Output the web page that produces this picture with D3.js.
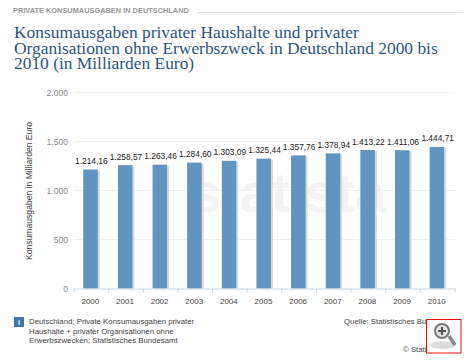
<!DOCTYPE html>
<html>
<head>
<meta charset="utf-8">
<script src="https://cdn.jsdelivr.net/npm/d3@7"></script>
<style>
  html, body { margin: 0; padding: 0; background: #fff; }
  svg { display: block; }
</style>
</head>
<body>
<div id="chart"></div>
<script>
const years = ['2000', '2001', '2002', '2003', '2004', '2005', '2006', '2007', '2008', '2009', '2010'];
const values = [1214.16, 1258.57, 1263.46, 1284.60, 1303.09, 1325.44, 1357.76, 1378.94, 1413.22, 1411.06, 1444.71];
const valueLabels = ['1.214,16', '1.258,57', '1.263,46', '1.284,60', '1.303,09', '1.325,44', '1.357,76', '1.378,94', '1.413,22', '1.411,06', '1.444,71'];
const yTicks = [0, 500, 1000, 1500, 2000];
const yTickLabels = ['0', '500', '1.000', '1.500', '2.000'];
const titleLines = ['Konsumausgaben privater Haushalte und privater', 'Organisationen ohne Erwerbszweck in Deutschland 2000 bis', '2010 (in Milliarden Euro)'];
const noteLines = ['Deutschland; Private Konsumausgaben privater', 'Haushalte + privater Organisationen ohne', 'Erwerbszwecken; Statistisches Bundesamt'];

const sans = 'Arial, "Liberation Sans", sans-serif';
const svg = d3.select('#chart').append('svg').attr('width', 470).attr('height', 360);

// header
svg.append('text').attr('x', 13).attr('y', 13)
  .attr('font-family', sans).attr('font-size', 7.4).attr('font-weight', 'bold').attr('fill', '#999')
  .text('PRIVATE KONSUMAUSGABEN IN DEUTSCHLAND');
svg.append('line').attr('x1', 197).attr('x2', 463).attr('y1', 12.5).attr('y2', 12.5)
  .attr('stroke', '#ddd');
svg.selectAll('.title').data(titleLines).enter().append('text')
  .attr('class', 'title')
  .attr('x', 14)
  .attr('y', (d, i) => 38 + i * 15.7)
  .attr('font-family', 'Georgia, "Liberation Serif", serif')
  .attr('font-size', 17.4)
  .attr('fill', '#2b5583')
  .text(d => d);

const x = d3.scaleBand().domain(years).range([74, 455]);
const y = d3.scaleLinear().domain([0, 2000]).range([288.5, 92.5]);

// watermark
svg.append('text').attr('x', 288).attr('y', 212).attr('text-anchor', 'middle')
  .attr('font-family', sans).attr('font-size', 56).attr('font-weight', 'bold')
  .attr('fill', '#f3f3f3').text('statista');

// grid
svg.selectAll('.grid').data(yTicks.slice(1)).enter().append('line')
  .attr('class', 'grid')
  .attr('x1', 74).attr('x2', 455)
  .attr('y1', d => y(d)).attr('y2', d => y(d))
  .attr('stroke', '#f0f0f0');

const barW = 14.5;
const barX = d => x(d) + x.bandwidth() / 2 - barW / 2 - 0.8;

// bar shadows
svg.selectAll('.shadow').data(years).enter().append('rect')
  .attr('class', 'shadow')
  .attr('x', d => barX(d) + 2)
  .attr('y', (d, i) => y(values[i]) + 1)
  .attr('width', barW)
  .attr('height', (d, i) => y(0) - y(values[i]) - 1)
  .attr('fill', '#d8d8d4');

svg.selectAll('.bar').data(years).enter().append('rect')
  .attr('class', 'bar')
  .attr('x', d => barX(d))
  .attr('y', (d, i) => y(values[i]))
  .attr('width', barW)
  .attr('height', (d, i) => y(0) - y(values[i]))
  .attr('fill', '#6094c1');

svg.selectAll('.value').data(years).enter().append('text')
  .attr('class', 'value')
  .attr('x', d => x(d) + x.bandwidth() / 2)
  .attr('y', (d, i) => y(values[i]) - 5.5)
  .attr('text-anchor', 'middle')
  .attr('font-family', sans).attr('font-size', 8.4).attr('fill', '#222')
  .text((d, i) => valueLabels[i]);

// axes
const xAxis = svg.append('g')
  .attr('transform', 'translate(0,288.5)')
  .call(d3.axisBottom(x).tickSize(0).tickPadding(10));
xAxis.select('.domain').attr('stroke', '#ccd6e0');
xAxis.selectAll('text').attr('font-family', sans).attr('font-size', 8).attr('fill', '#444').attr('dx', -1);
xAxis.selectAll('.edge').data(d3.range(years.length + 1)).enter().append('line')
  .attr('class', 'edge')
  .attr('x1', i => 74 + i * x.step()).attr('x2', i => 74 + i * x.step())
  .attr('y1', 0).attr('y2', 4)
  .attr('stroke', '#ccd6e0');

const yAxis = svg.append('g')
  .attr('transform', 'translate(74,0)')
  .call(d3.axisLeft(y).tickValues(yTicks).tickSize(0).tickPadding(6)
    .tickFormat((d, i) => yTickLabels[i]));
yAxis.select('.domain').remove();
yAxis.selectAll('text').attr('font-family', sans).attr('font-size', 8.6).attr('fill', '#888');

svg.append('text')
  .attr('transform', 'translate(32,191) rotate(-90)')
  .attr('text-anchor', 'middle')
  .attr('font-family', sans).attr('font-size', 8.6).attr('fill', '#444')
  .text('Konsumausgaben in Milliarden Euro');

// footer
svg.append('rect').attr('x', 14).attr('y', 317).attr('width', 10).attr('height', 10).attr('fill', '#3f74a8');
svg.append('text').attr('x', 19).attr('y', 325).attr('text-anchor', 'middle')
  .attr('font-family', sans).attr('font-size', 7).attr('font-weight', 'bold').attr('fill', '#fff').text('i');
svg.selectAll('.note').data(noteLines).enter().append('text')
  .attr('class', 'note')
  .attr('x', 29)
  .attr('y', (d, i) => 324 + i * 9.5)
  .attr('font-family', sans).attr('font-size', 7.8).attr('fill', '#444')
  .text(d => d);
svg.append('text').attr('x', 344).attr('y', 324)
  .attr('font-family', sans).attr('font-size', 7.8).attr('fill', '#444')
  .text('Quelle: Statistisches Bundesamt');
svg.append('text').attr('x', 403).attr('y', 352)
  .attr('font-family', sans).attr('font-size', 7.8).attr('fill', '#444')
  .text('© Statista 2012');

// zoom icon overlay
const icon = svg.append('g');
icon.append('rect').attr('x', 426.5).attr('y', 319.5).attr('width', 34.5).attr('height', 33.5)
  .attr('fill', '#fff').attr('stroke', '#e8100f');
icon.append('ellipse').attr('cx', 443).attr('cy', 345).attr('rx', 13).attr('ry', 4).attr('fill', '#ddd');
icon.append('line').attr('x1', 449).attr('y1', 336).attr('x2', 455).attr('y2', 345)
  .attr('stroke', '#808890').attr('stroke-width', 3.5);
icon.append('circle').attr('cx', 442).attr('cy', 331).attr('r', 7)
  .attr('fill', '#e4e4e4').attr('stroke', '#777').attr('stroke-width', 2);
icon.append('path').attr('d', 'M438 331H446M442 327V335').attr('stroke', '#555').attr('stroke-width', 2.2);
</script>
</body>
</html>
